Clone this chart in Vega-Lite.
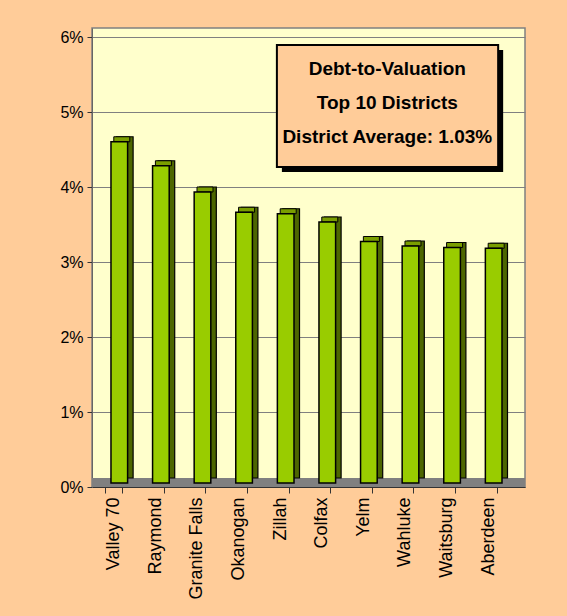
{
  "$schema": "https://vega.github.io/schema/vega-lite/v6.json",
  "autosize": {"type": "none"},
  "padding": {"left": 92, "top": 28, "right": 42, "bottom": 129},
  "width": 433,
  "height": 459,
  "background": "#FFCC99",
  "config": {
    "font": "Liberation Sans",
    "view": {"fill": "#FFFFCC", "stroke": "#808080", "strokeWidth": 1.5},
    "axis": {"labelColor": "#000000", "titleColor": "#000000"}
  },
  "layer": [
    {
      "data": {"values": [
        {"district": "Valley 70", "ratio": 0.0455},
        {"district": "Raymond", "ratio": 0.0423},
        {"district": "Granite Falls", "ratio": 0.0388},
        {"district": "Okanogan", "ratio": 0.0361},
        {"district": "Zillah", "ratio": 0.0359},
        {"district": "Colfax", "ratio": 0.0348},
        {"district": "Yelm", "ratio": 0.0322},
        {"district": "Wahluke", "ratio": 0.0316},
        {"district": "Waitsburg", "ratio": 0.0314},
        {"district": "Aberdeen", "ratio": 0.0313}
      ]},
      "layer": [
        {
          "data": {"values": [{}]},
          "mark": {"type": "rect", "color": "#808080"},
          "encoding": {
            "y": {"datum": 0, "type": "quantitative"},
            "y2": {"datum": 0.0012}
          }
        },
        {
          "mark": {"type": "bar", "color": "#4D6600", "stroke": "#000000", "strokeWidth": 1.2, "xOffset": 11, "x2Offset": 11, "yOffset": -9, "y2Offset": -9},
          "encoding": {
            "x": {"field": "district", "type": "nominal", "sort": null,
                  "scale": {"paddingInner": 0.6, "paddingOuter": 0.5045, "align": 0.321}},
            "y": {"field": "ratio", "type": "quantitative"}
          }
        },
        {
          "mark": {"type": "tick", "color": "#7A9E00", "stroke": "#000000", "strokeWidth": 1, "size": 16, "thickness": 5, "xOffset": 8, "yOffset": -6.5, "opacity": 1},
          "encoding": {
            "x": {"field": "district", "type": "nominal", "sort": null,
                  "scale": {"paddingInner": 0.6, "paddingOuter": 0.5045, "align": 0.321}},
            "y": {"field": "ratio", "type": "quantitative"}
          }
        },
        {
          "mark": {"type": "bar", "color": "#99CC00", "stroke": "#000000", "strokeWidth": 1.5, "xOffset": 5.5, "x2Offset": 5.5, "yOffset": -4, "y2Offset": -4},
          "encoding": {
            "x": {"field": "district", "type": "nominal", "sort": null,
                  "scale": {"paddingInner": 0.6, "paddingOuter": 0.5045, "align": 0.321},
                  "axis": {"title": null, "tickBand": "extent", "labelAngle": 270, "labelFontSize": 18, "labelPadding": 4,
                           "tickSize": 6, "tickColor": "#333333", "domainColor": "#333333", "grid": false}},
            "y": {"field": "ratio", "type": "quantitative",
                  "scale": {"domain": [0, 0.0612], "nice": false},
                  "axis": {"title": null, "values": [0, 0.01, 0.02, 0.03, 0.04, 0.05, 0.06], "format": ".0%",
                           "labelFontSize": 16, "labelPadding": 4, "tickSize": 5, "tickColor": "#333333",
                           "domainColor": "#666666", "grid": true, "gridColor": "#808080", "gridWidth": 1.2}}
          }
        }
      ]
    },
    {
      "data": {"values": [{}]},
      "layer": [
        {
          "mark": {"type": "rect", "color": "#000000", "xOffset": 5, "x2Offset": 5, "yOffset": 5, "y2Offset": 5},
          "encoding": {
            "x": {"datum": 42.7, "type": "quantitative", "scale": {"domain": [0, 100]}, "axis": null},
            "x2": {"datum": 93.8},
            "y": {"datum": 0.05893, "type": "quantitative"},
            "y2": {"datum": 0.04267}
          }
        },
        {
          "mark": {"type": "rect", "fill": "#FFCC99", "stroke": "#000000", "strokeWidth": 2},
          "encoding": {
            "x": {"datum": 42.7, "type": "quantitative", "scale": {"domain": [0, 100]}, "axis": null},
            "x2": {"datum": 93.8},
            "y": {"datum": 0.05893, "type": "quantitative"},
            "y2": {"datum": 0.04267}
          }
        },
        {
          "mark": {"type": "text", "fontSize": 19, "fontWeight": "bold", "color": "#000000", "align": "center", "baseline": "middle", "lineHeight": 34},
          "encoding": {
            "x": {"datum": 68.2, "type": "quantitative", "scale": {"domain": [0, 100]}, "axis": null},
            "y": {"datum": 0.05573, "type": "quantitative"},
            "text": {"value": ["Debt-to-Valuation", "Top 10 Districts", "District Average: 1.03%"]}
          }
        }
      ]
    }
  ],
  "resolve": {"scale": {"x": "independent"}, "axis": {"x": "independent"}}
}
